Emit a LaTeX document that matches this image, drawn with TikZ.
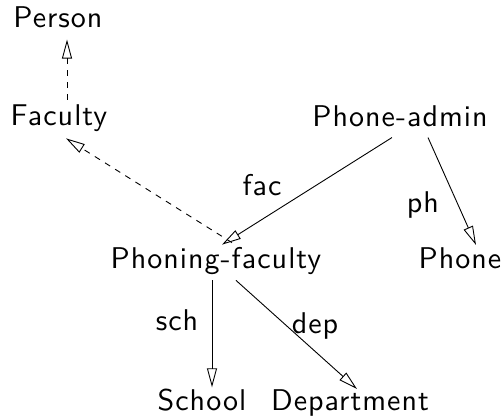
\documentclass[tikz,border=0pt]{standalone}
\usepackage{fontspec}
\newfontfamily\diagfont{lmsans10-regular}[Extension=.otf, LetterSpace=3.4]
\usepackage{tikz}
\usetikzlibrary{arrows.meta}

\begin{document}
\begin{tikzpicture}[x=1pt, y=-1pt,
	every node/.style={font=\diagfont\fontsize{30}{36}\selectfont, inner sep=0pt, anchor=base},
	isa/.style={-{Triangle[open,length=19pt,width=10pt]}, line width=0.9pt},
	sub/.style={isa, dash pattern=on 6pt off 6pt}]
	\useasboundingbox (0,0) rectangle (501,420);
	% classes
	\node (person) at (58,28) {Person};
	\node (faculty) at (59,125) {Faculty};
	\node (padmin) at (400,126) {Phone-admin};
	\node (pfac) at (216,268) {Phoning-faculty};
	\node (phone) at (460,268) {Phone};
	\node (school) at (202,410) {School};
	\node (dept) at (350,410) {Department};
	% roles
	\node (lfac) at (262,195) {fac};
	\node (lph) at (423,212) {ph};
	\node (lsch) at (177,330) {sch};
	\node (ldep) at (315,333) {dep};
	% subclass links
	\draw[sub] ([xshift=8pt,yshift=4pt]faculty.north) -- ([xshift=9pt,yshift=-11pt]person.south);
	\draw[sub] ([xshift=16pt,yshift=4pt]pfac.north) -- ([xshift=7pt,yshift=-7pt]faculty.south);
	% attribute links
	\draw[isa] ([xshift=-8pt,yshift=-11pt]padmin.south) -- ([xshift=6pt,yshift=2pt]pfac.north);
	\draw[isa] ([xshift=28pt,yshift=-11pt]padmin.south) -- ([xshift=16pt,yshift=2pt]phone.north);
	\draw[isa] ([xshift=-4pt,yshift=-6pt]pfac.south) -- ([xshift=10pt,yshift=1pt]school.north);
	\draw[isa] ([xshift=20pt,yshift=-6pt]pfac.south) -- ([xshift=7pt]dept.north);
\end{tikzpicture}
\end{document}
